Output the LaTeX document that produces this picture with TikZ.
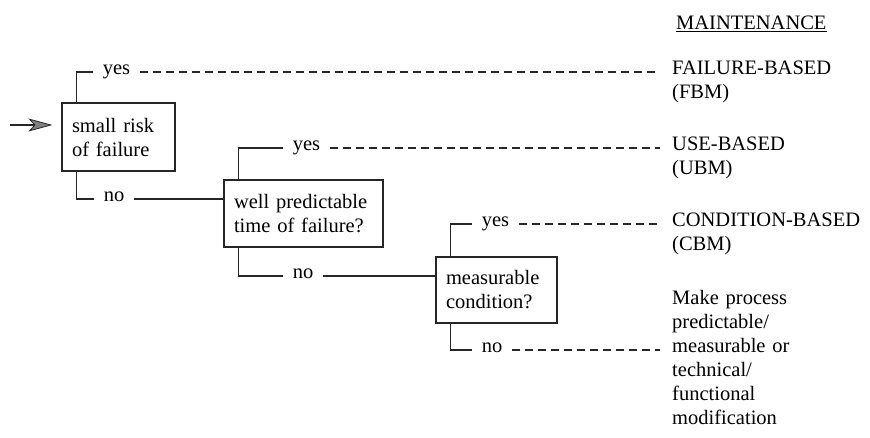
\documentclass[tikz,border=0pt]{standalone}
\usepackage{fontspec}
\setmainfont{Liberation Serif}
\usetikzlibrary{arrows.meta}
\tikzset{every node/.style={font=\fontsize{20.5}{24}\selectfont}}
\colorlet{linecol}{black!85}
\colorlet{headcol}{black!50}
\colorlet{textcol}{black}
\tikzset{
  decbox/.style={draw=linecol, line width=1.2pt, inner xsep=10pt, align=left, text=textcol},
  answer/.style={inner xsep=10pt, inner ysep=0pt, anchor=mid, text=textcol},
  outcome/.style={inner xsep=12pt, inner ysep=0pt, anchor=mid west, align=left,
    text width=200pt, text=textcol},
  branch/.style={line width=1.2pt, draw=linecol},
  hint/.style={branch, dash pattern=on 8pt off 5pt},
}

\begin{document}
\begin{tikzpicture}[x=1pt, y=-1pt, >=Stealth]

  \useasboundingbox (0,0) rectangle (870,438);

  % Decision boxes.
  \node[decbox, text width=93pt, minimum height=68pt] (risk) at (118.5,137)
    {small risk\\of failure};
  \node[decbox, text width=139pt, minimum height=67pt] (predict) at (303.5,213.5)
    {well predictable\\time of failure?};
  \node[decbox, text width=101pt, minimum height=66pt] (measure) at (496.5,290)
    {measurable\\condition?};

  % Answers.
  \node[answer] (riskyes) at (116.5,72) {yes};
  \node[answer] (riskno) at (114,199) {no};
  \node[answer] (predyes) at (306.5,148) {yes};
  \node[answer] (predno) at (303,276) {no};
  \node[answer] (measyes) at (495.5,224) {yes};
  \node[answer] (measno) at (492,350) {no};

  % Outcomes — maintenance types.
  \node[anchor=mid west, inner xsep=0pt, text=textcol] (head) at (676,27)
    {\underline{MAINTENANCE}};
  \node[outcome] (fbm) at (660,72) {FAILURE-BASED\\(FBM)};
  \node[outcome] (ubm) at (660,148) {USE-BASED\\(UBM)};
  \node[outcome] (cbm) at (660,224) {CONDITION-BASED\\(CBM)};
  \node[outcome] (modify) at (660,302)
    {Make process\\predictable/\\measurable or\\technical/\\functional\\modification};

  % Entry arrow.
  \coordinate (entry) at (10,125);
  \draw[branch, shorten >=9pt,
    -{Stealth[length=24pt, width=13pt, inset=6pt, fill=headcol, line width=0.8pt]}]
    (entry) -- (entry -| risk.west);

  % Branches of the first box.
  \draw[branch] ([xshift=15pt]risk.north west) |- (riskyes.mid west);
  \draw[branch] ([xshift=15pt]risk.south west) |- (riskno.mid west);
  \draw[hint] (riskyes.mid east) -- (fbm.mid west);
  \draw[branch] (riskno.mid east) -- (riskno.mid east -| predict.west);

  % Branches of the second box.
  \draw[branch] ([xshift=15pt]predict.north west) |- (predyes.mid west);
  \draw[branch] ([xshift=15pt]predict.south west) |- (predno.mid west);
  \draw[hint] (predyes.mid east) -- (ubm.mid west);
  \draw[branch] (predno.mid east) -- (predno.mid east -| measure.west);

  % Branches of the third box.
  \draw[branch] ([xshift=15pt]measure.north west) |- (measyes.mid west);
  \draw[branch] ([xshift=15pt]measure.south west) |- (measno.mid west);
  \draw[hint] (measyes.mid east) -- (cbm.mid west);
  \draw[hint] (measno.mid east) -- (modify.west |- measno.mid east);

\end{tikzpicture}
\end{document}
